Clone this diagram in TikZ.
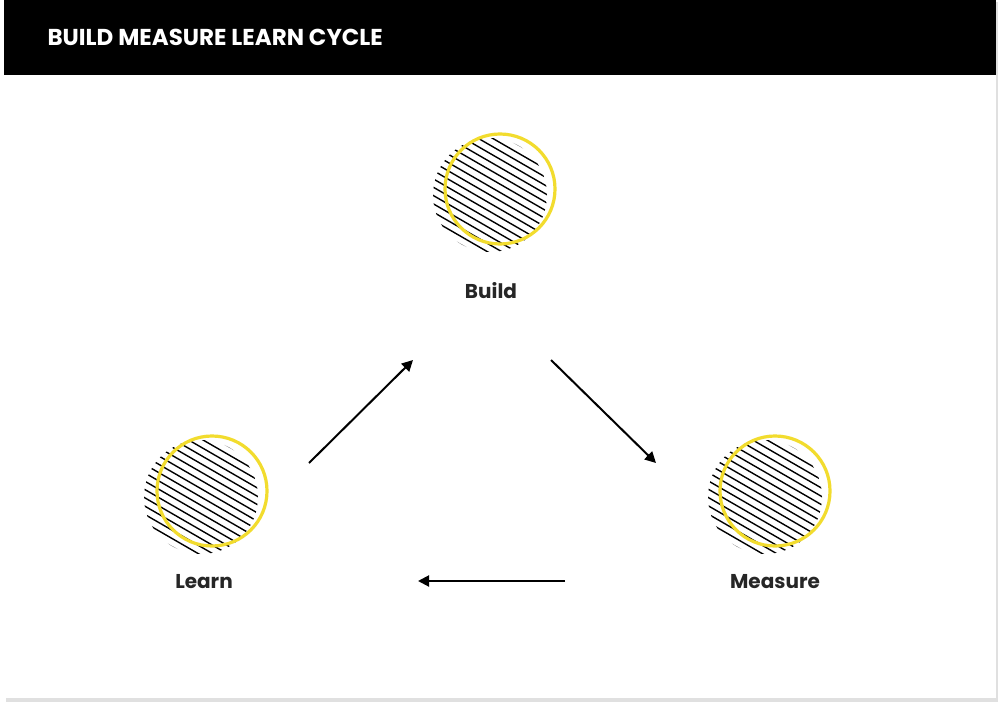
\documentclass[tikz,border=0pt]{standalone}
\usepackage{fontspec}
\setmainfont{Poppins}
\usetikzlibrary{arrows.meta}
\definecolor{yel}{HTML}{F2DC2E}
\begin{document}
\begin{tikzpicture}[x=1pt,y=-1pt,
  lbl/.style={font=\bfseries\fontsize{20}{24}\selectfont, text=black!85},
  arr/.style={line width=2pt,-{Triangle[length=11pt,width=11pt]}},
  ring/.style={draw=yel,line width=3.2pt}]
\useasboundingbox (0,0) rectangle (1000,706);
\fill[black!12] (6,2) rectangle (998,702);
\fill[white] (4,0) rectangle (996,698);
\fill[black] (4,0) rectangle (996,75);
\node[anchor=west,text=white,font=\bfseries\fontsize{23}{28}\selectfont] (title) at (44,37) {BUILD MEASURE LEARN CYCLE};
\newcommand{\hatchc}[2]{%
  \begin{scope}
    \clip (#1,#2) circle (57);
    \foreach \k in {-12,...,12}{
      \draw[line width=1.4pt,rotate around={-30:(#1,#2)}] (#1-80,#2+\k*7.2) -- (#1+80,#2+\k*7.2);
    }
  \end{scope}}
\hatchc{490}{195}
\draw[ring] (500,189) circle (55);
\hatchc{201}{497}
\draw[ring] (212,491) circle (55);
\hatchc{765}{497}
\draw[ring] (775,491) circle (55);
\node[lbl] (build) at (491,291) {Build};
\node[lbl] (learn) at (204,582) {Learn};
\node[lbl] (measure) at (775,582) {Measure};
\coordinate (a1) at (309,463); \coordinate (a2) at (413,360);
\coordinate (b1) at (551,360); \coordinate (b2) at (656,463);
\coordinate (c1) at (565,581); \coordinate (c2) at (418,581);
\draw[arr] (a1) -- (a2);
\draw[arr] (b1) -- (b2);
\draw[arr] (c1) -- (c2);
\end{tikzpicture}
\end{document}
